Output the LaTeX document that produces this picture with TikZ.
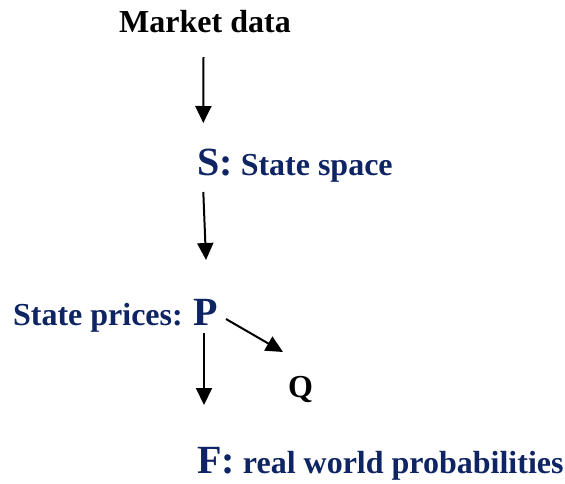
\documentclass[tikz,border=0pt]{standalone}
\usepackage{fontspec}
\setmainfont{Liberation Serif}
\usetikzlibrary{arrows.meta,calc}
\definecolor{navy}{RGB}{14,36,99}
\newcommand{\txtfont}{\fontsize{32}{36}\selectfont\bfseries}
\newcommand{\bigfont}{\fontsize{40}{44}\selectfont\bfseries}
\begin{document}
\begin{tikzpicture}[x=1pt,y=-1pt,
  lbl/.style={inner sep=0pt,font=\txtfont},
  arr/.style={line width=2pt,-{Triangle[width=16pt,length=17pt]}}]
\useasboundingbox (0,0) rectangle (565,483);
\node[lbl,anchor=base] (market) at (205,32) {Market data};
\node[lbl,anchor=base west,text=navy] (s) at (197,175) {{\bigfont S:} State space};
\node[lbl,anchor=base east,text=navy] (plabel) at (183,325) {State prices:};
\node[lbl,anchor=base west,text=navy,font=\bigfont] (p) at (193,325) {P};
\node[lbl,anchor=base west] (q) at (288,397) {Q};
\node[lbl,anchor=base west,text=navy] (f) at (197,473) {{\bigfont F:} real world probabilities};
\draw[arr] ($(market.base)+(-1.5,25)$) -- ($(s.base west)+(6.3,-52)$);
\draw[arr] ($(s.base west)+(6.3,17)$) -- ($(p.base west)+(13,-65)$);
\draw[arr] ($(p.base west)+(11,8)$) -- ($(f.base west)+(7,-68)$);
\draw[arr] ($(p.base west)+(33,-6)$) -- ($(q.base west)+(-5,-45)$);
\end{tikzpicture}
\end{document}
